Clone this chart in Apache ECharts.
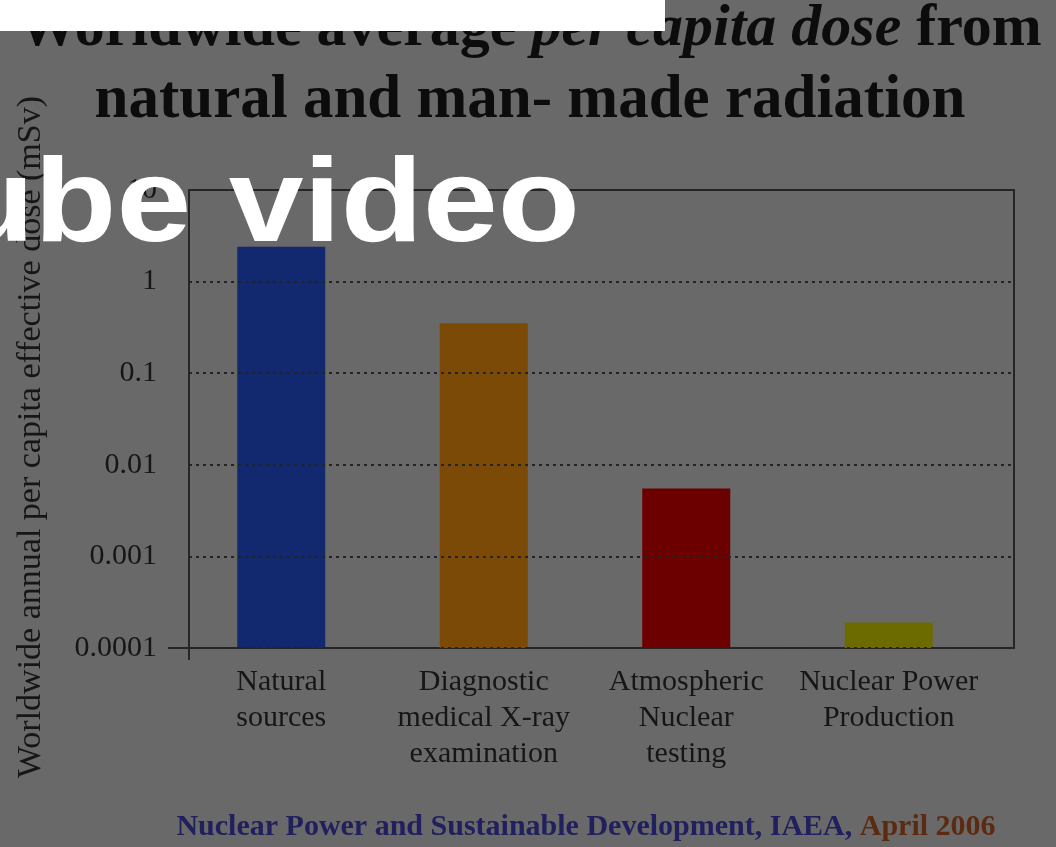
<!DOCTYPE html>
<html>
<head>
<meta charset="utf-8">
<script src="https://cdn.jsdelivr.net/npm/echarts@6/dist/echarts.min.js"></script>
<style>
  html, body { margin: 0; padding: 0; background: #696969; }
  #chart { width: 1056px; height: 847px; }
</style>
</head>
<body>
<div id="chart"></div>
<script>
// ---- data ----
const categories = [
  'Natural\nsources',
  'Diagnostic\nmedical X-ray\nexamination',
  'Atmospheric\nNuclear\ntesting',
  'Nuclear Power\nProduction'
];
const doses = [2.4, 0.35, 0.0055, 0.00019];          // mSv per year
const barColors = ['#13296f', '#7a4a06', '#6c0000', '#6b6b00'];
const yMin = 0.0001;
const yMax = 10;
const titleLine1 = ['Worldwide average ', 'per capita dose', ' from'];
const titleLine2 = 'natural and man- made radiation';
const yAxisTitle = 'Worldwide annual per capita effective dose (mSv)';
const sourceText = ['Nuclear Power and Sustainable Development, IAEA, ', 'April 2006'];
const overlayText = 'ube video';

const serif = '"Liberation Serif", "DejaVu Serif", serif';
const chart = echarts.init(document.getElementById('chart'));

const tickLabel = v => String(Number(Number(v).toPrecision(1)));
const BAR_W = 88;

chart.setOption({
  backgroundColor: '#696969',
  animation: false,
  grid: [
    { left: 180, right: 66, top: 190, bottom: 199 },
    { left: 189, right: 42, top: 190, bottom: 199, show: true,
      borderColor: '#262626', borderWidth: 2, backgroundColor: 'transparent' }
  ],
  xAxis: [
    { type: 'category', gridIndex: 0, data: categories,
      axisLine: { show: false }, axisTick: { show: false },
      axisLabel: { fontFamily: serif, fontSize: 30, color: '#161616', lineHeight: 36, margin: 16, interval: 0 } },
    { type: 'category', gridIndex: 1, data: categories,
      axisLine: { show: false }, axisTick: { show: false }, axisLabel: { show: false } }
  ],
  yAxis: [
    { type: 'log', gridIndex: 0, logBase: 10, min: yMin, max: yMax, show: false },
    { type: 'log', gridIndex: 1, logBase: 10, min: yMin, max: yMax, z: 10,
      axisLine: { show: false }, axisTick: { show: false },
      axisLabel: { fontFamily: serif, fontSize: 30, color: '#161616', margin: 32, formatter: tickLabel },
      splitLine: { show: true, lineStyle: { color: '#242424', width: 2, type: [3, 4] } } }
  ],
  series: [{
    type: 'custom', xAxisIndex: 0, yAxisIndex: 0,
    data: doses.map((v, i) => [i, v]),
    encode: { x: 0, y: 1 },
    renderItem: function (params, api) {
      const i = api.value(0);
      const top = api.coord([i, api.value(1)]);
      const bottom = api.coord([i, yMin]);
      return {
        type: 'rect',
        shape: { x: top[0] - BAR_W / 2, y: top[1], width: BAR_W, height: bottom[1] - top[1] },
        style: { fill: barColors[i] }
      };
    }
  }],
  graphic: [
    { type: 'line', z: 15, shape: { x1: 168, y1: 648, x2: 189, y2: 648 }, style: { stroke: '#262626', lineWidth: 2 } },
    { type: 'line', z: 15, shape: { x1: 189, y1: 648, x2: 189, y2: 660 }, style: { stroke: '#262626', lineWidth: 2 } },
    { type: 'text', x: 530, y: -7, z: 20,
      style: {
        text: '{a|' + titleLine1[0] + '}{i|' + titleLine1[1] + '}{a|' + titleLine1[2] + '}\n{n|' + titleLine2 + '}',
        align: 'center', verticalAlign: 'top',
        rich: {
          a: { fontFamily: serif, fontWeight: 'bold', fontSize: 60, lineHeight: 72, fill: '#0c0c0c' },
          n: { fontFamily: serif, fontWeight: 'bold', fontSize: 61, lineHeight: 72, fill: '#0c0c0c' },
          i: { fontFamily: serif, fontWeight: 'bold', fontStyle: 'italic', fontSize: 60, lineHeight: 72, fill: '#0c0c0c' }
        }
      } },
    { type: 'text', x: 31, y: 437, rotation: Math.PI / 2, z: 20,
      style: { text: yAxisTitle, fontFamily: serif, fontSize: 34, fill: '#161616',
               align: 'center', verticalAlign: 'middle' } },
    { type: 'text', x: 586, y: 827, z: 20,
      style: {
        text: '{a|' + sourceText[0] + '}{b|' + sourceText[1] + '}',
        align: 'center', verticalAlign: 'middle',
        rich: {
          a: { fontFamily: serif, fontWeight: 'bold', fontSize: 30, fill: '#20205e' },
          b: { fontFamily: serif, fontWeight: 'bold', fontSize: 30, fill: '#5c2a10' }
        }
      } },
    { type: 'rect', z: 30, shape: { x: 0, y: 0, width: 665, height: 31 }, style: { fill: '#ffffff' } },
    { type: 'text', x: 580, y: 208, z: 40, scaleX: 1.14,
      style: { text: overlayText, fontFamily: '"Liberation Sans", Arial, sans-serif', fontWeight: 'bold',
               fontSize: 118, fill: '#ffffff', align: 'right', verticalAlign: 'middle' } }
  ]
});
</script>
</body>
</html>
